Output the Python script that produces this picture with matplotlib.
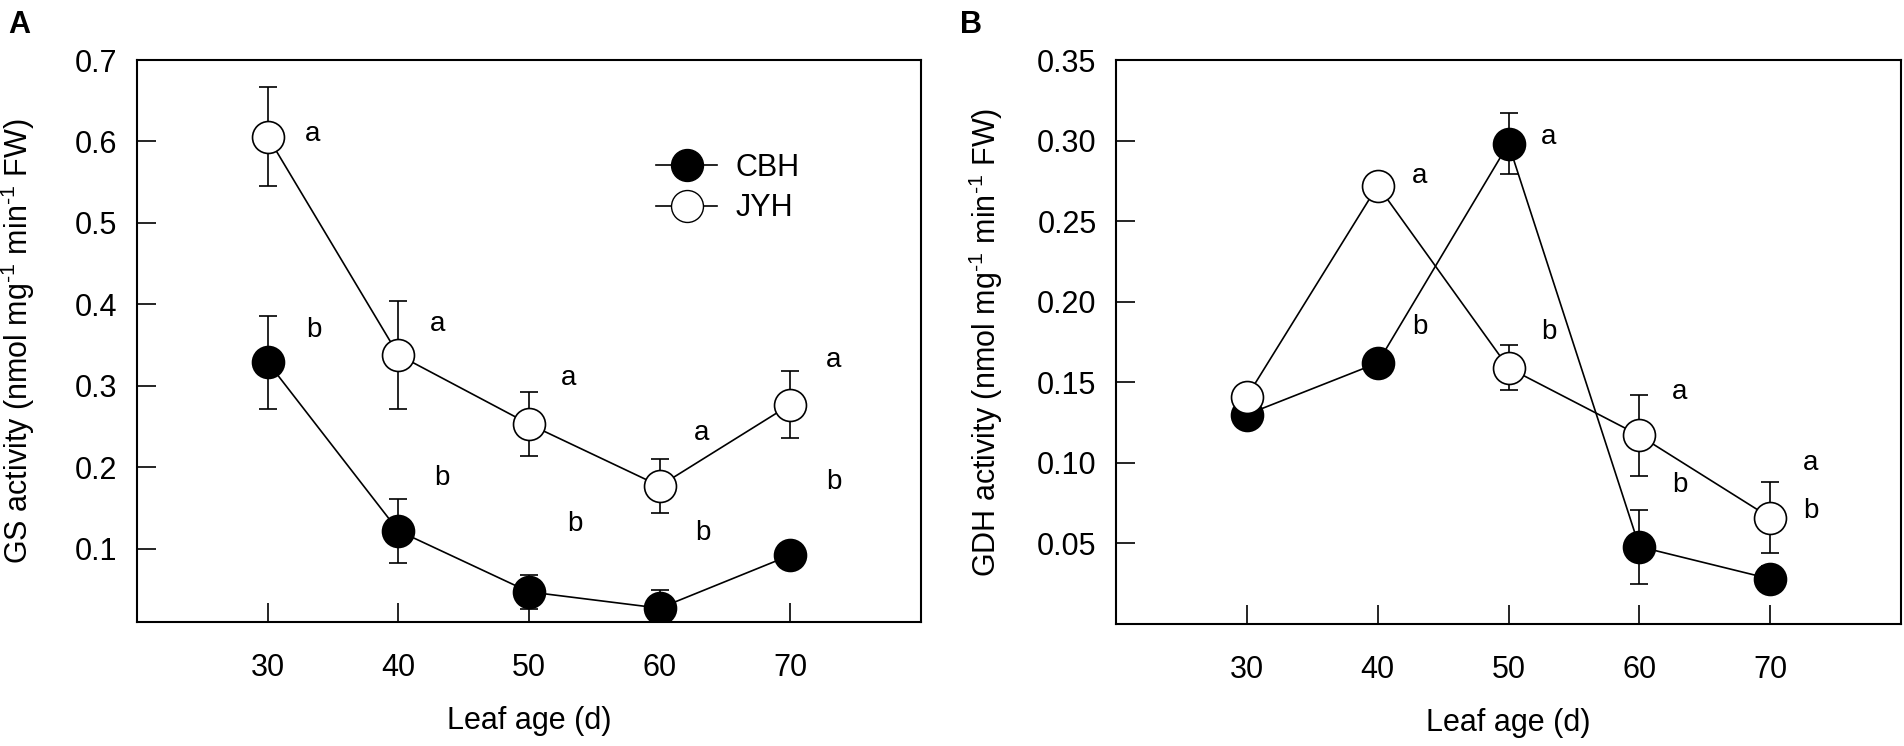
import matplotlib
matplotlib.use("Agg")
import matplotlib.pyplot as plt
from matplotlib.lines import Line2D

plt.rcParams['font.family'] = ['Liberation Sans', 'DejaVu Sans']
plt.rcParams['mathtext.fontset'] = 'custom'
plt.rcParams['mathtext.rm'] = 'Liberation Sans'

# ---------------- data ----------------
days = [30, 40, 50, 60, 70]
series_names = ["CBH", "JYH"]

gs_cbh = [0.329, 0.122, 0.047, 0.027, 0.092]
gs_cbh_err = [0.057, 0.039, 0.021, 0.022, 0.008]
gs_jyh = [0.606, 0.338, 0.253, 0.177, 0.277]
gs_jyh_err = [0.061, 0.066, 0.039, 0.033, 0.041]

gdh_cbh = [0.130, 0.162, 0.298, 0.048, 0.028]
gdh_cbh_err = [0.004, 0.004, 0.019, 0.023, 0.008]
gdh_jyh = [0.141, 0.272, 0.159, 0.117, 0.066]
gdh_jyh_err = [0.005, 0.005, 0.014, 0.025, 0.022]

gs_ticks = [0.1, 0.2, 0.3, 0.4, 0.5, 0.6, 0.7]
gdh_ticks = [0.05, 0.10, 0.15, 0.20, 0.25, 0.30, 0.35]

# significance letters (text, x, y) in data coordinates
gs_letters = [("a", 33.4, 0.609), ("b", 33.5, 0.369),
              ("a", 43.0, 0.376), ("b", 43.3, 0.187),
              ("a", 53.0, 0.309), ("b", 53.5, 0.130),
              ("a", 63.2, 0.242), ("b", 63.3, 0.119),
              ("a", 73.3, 0.332), ("b", 73.3, 0.182)]
gdh_letters = [("a", 43.2, 0.278), ("b", 43.2, 0.184),
               ("a", 53.1, 0.302), ("b", 53.1, 0.181),
               ("a", 63.1, 0.144), ("b", 63.1, 0.086),
               ("a", 73.1, 0.100), ("b", 73.1, 0.070)]

# ---------------- figure ----------------
W, H = 1904, 746
fig = plt.figure(figsize=(W / 100, H / 100), dpi=100)

def px_axes(left, top, right, bottom):
    return fig.add_axes([left / W, 1 - bottom / H, (right - left) / W, (bottom - top) / H])

axA = px_axes(137, 60, 921, 622)
axB = px_axes(1116, 60, 1901, 624)

MS = 23
TICK_FS = 22
LET_FS = 20
SUP = "$^{\\mathregular{\N{HYPHEN}1}}$"

def draw(ax, cbh, cbh_err, jyh, jyh_err, ylim, ticks, fmt, ylabel, letters):
    ax.errorbar(days, cbh, yerr=cbh_err, fmt='none', ecolor='black',
                elinewidth=1.2, capsize=6.5, capthick=1.2, zorder=1)
    ax.plot(days, cbh, '-', color='black', lw=1.2, marker='o', ms=MS,
            mfc='black', mec='black', mew=1.2, zorder=2)
    ax.errorbar(days, jyh, yerr=jyh_err, fmt='none', ecolor='black',
                elinewidth=1.2, capsize=6.5, capthick=1.2, zorder=3)
    ax.plot(days, jyh, '-', color='black', lw=1.2, marker='o', ms=MS,
            mfc='white', mec='black', mew=1.2, zorder=4)
    ax.set_xlim(20, 80)
    ax.set_ylim(*ylim)
    ax.set_xticks(days)
    ax.set_yticks(ticks)
    ax.set_yticklabels([fmt.format(t) for t in ticks])
    ax.tick_params(direction='in', length=14, width=1.2, labelsize=TICK_FS, pad=14)
    ax.tick_params(axis='x', pad=22)
    for s in ax.spines.values():
        s.set_linewidth(1.5)
    ax.set_xlabel("Leaf age (d)", fontsize=TICK_FS)
    ax.xaxis.set_label_coords(0.5, -0.176)
    ax.xaxis.label.set_va('center')
    ax.set_ylabel(ylabel, fontsize=TICK_FS)
    for t, x, y in letters:
        ax.text(x, y, t, fontsize=LET_FS, ha='center', va='center', zorder=5)

draw(axA, gs_cbh, gs_cbh_err, gs_jyh, gs_jyh_err, (0.01, 0.7), gs_ticks, "{:.1f}",
     "GS activity (nmol mg" + SUP + " min" + SUP + " FW)", gs_letters)
axA.yaxis.set_label_coords(-0.128, 0.5)

draw(axB, gdh_cbh, gdh_cbh_err, gdh_jyh, gdh_jyh_err, (0.0, 0.35), gdh_ticks, "{:.2f}",
     "GDH activity (nmol mg" + SUP + " min" + SUP + " FW)", gdh_letters)
axB.yaxis.set_label_coords(-0.141, 0.5)

handles = [Line2D([], [], color='black', lw=1.2, marker='o', ms=MS, mfc='black', mec='black'),
           Line2D([], [], color='black', lw=1.2, marker='o', ms=MS, mfc='white', mec='black')]
axA.legend(handles, series_names, loc='center left', bbox_to_anchor=(0.662, 0.772),
           frameon=False, fontsize=TICK_FS, handlelength=2.0, handletextpad=0.6,
           labelspacing=0.35, borderpad=0, borderaxespad=0)

fig.text(8 / W, 1 - 25 / H, "A", fontsize=22, fontweight='bold', ha='left', va='center')
fig.text(960 / W, 1 - 25 / H, "B", fontsize=22, fontweight='bold', ha='left', va='center')

fig.savefig("out.png", dpi=100)
